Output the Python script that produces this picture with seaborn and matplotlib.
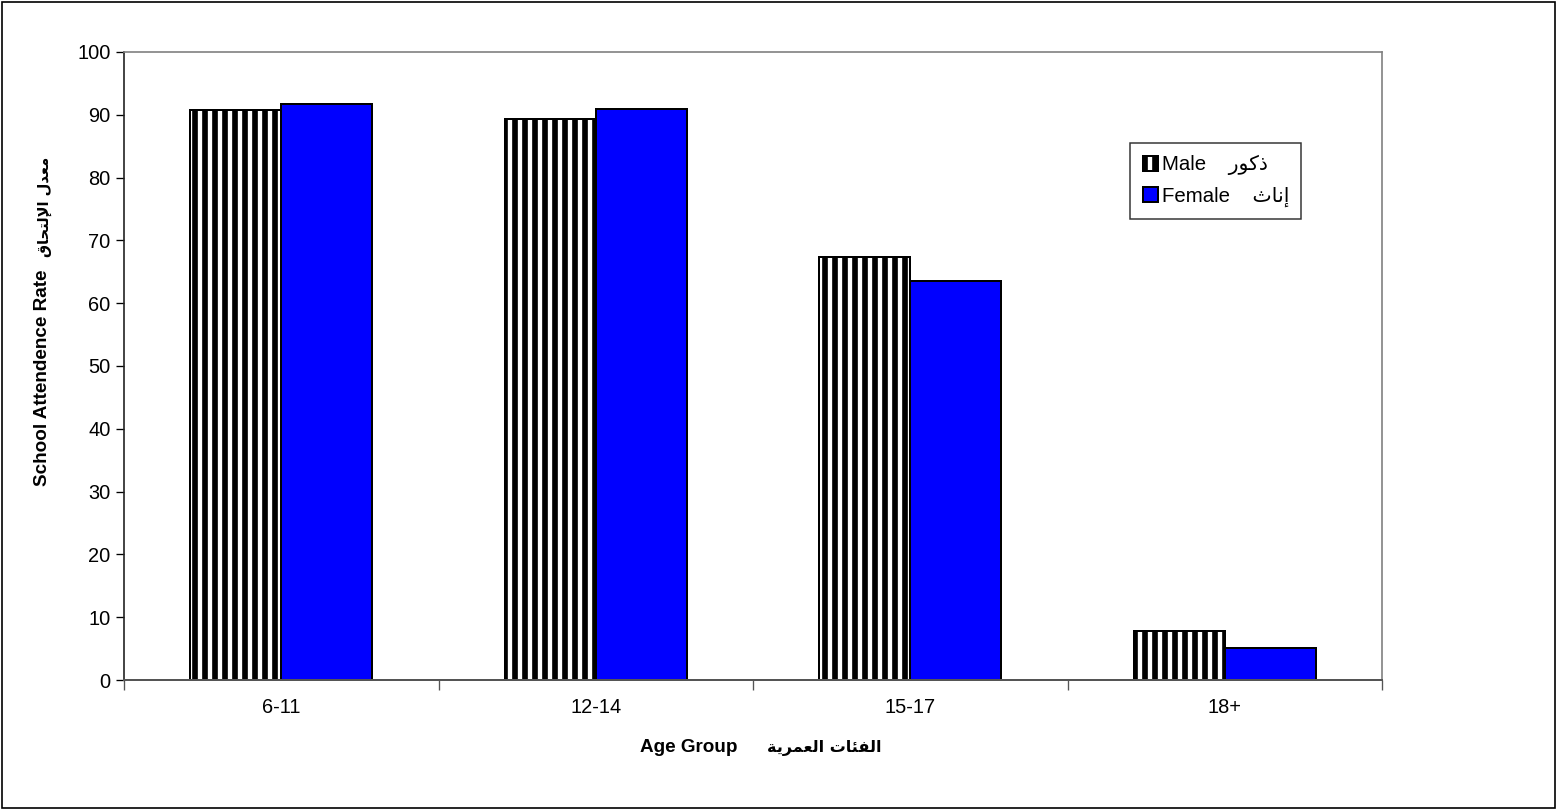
import pandas as pd
import matplotlib
matplotlib.use("Agg")
import matplotlib.pyplot as plt
import seaborn as sns
from matplotlib.patches import Patch, Rectangle

# Chart data
age_groups = ["6-11", "12-14", "15-17", "18+"]
male_rate = [90.8, 89.3, 67.4, 7.8]
female_rate = [91.7, 90.9, 63.5, 5.1]

# Arabic words written in presentation forms, visual (left-to-right) order
ar_male = "\uFEAD\uFEEE\uFEDB\uFEAB"                      # ذكور
ar_female = "\uFE99\uFE8E\uFEE7\uFE87"                    # إناث
ar_age = ("\uFE94\uFEF3\uFEAE\uFEE4\uFECC\uFEDF\uFE8D" + " "
          + "\uFE95\uFE8E\uFE8C\uFED4\uFEDF\uFE8D")       # الفئات العمرية
ar_rate = ("\uFED5\uFE8E\uFEA4\uFE98\uFEDF\uFEF9\uFE8D" + " "
           + "\uFEDD\uFEAA\uFECC\uFEE3")                   # معدل الإلتحاق

male_label = "Male    " + ar_male
female_label = "Female    " + ar_female
x_title_en = "Age Group"
y_title_en = "School Attendence Rate"

DPI = 120  # hatch spacing scales with dpi: '||' gives ~10 px stripes here


def main():
    sns.set_style("white")
    plt.rcParams["font.family"] = ["Liberation Sans", "DejaVu Sans"]
    plt.rcParams["hatch.linewidth"] = 3.4
    for key in ["text.color", "axes.labelcolor", "xtick.labelcolor",
                "ytick.labelcolor"]:
        plt.rcParams[key] = "black"

    df = pd.DataFrame({
        "age": age_groups * 2,
        "rate": male_rate + female_rate,
        "sex": ["Male"] * len(age_groups) + ["Female"] * len(age_groups),
    })

    fig = plt.figure(figsize=(1558 / DPI, 810 / DPI), dpi=DPI)
    ax = fig.add_axes([124 / 1558, 1 - 680 / 810, 1258 / 1558, 628 / 810])

    sns.barplot(data=df, x="age", y="rate", hue="sex", order=age_groups,
                hue_order=["Male", "Female"],
                palette={"Male": "white", "Female": "#0000FF"},
                saturation=1, width=0.58, edgecolor="black", linewidth=1.2,
                errorbar=None, legend=False, ax=ax)

    # vertical stripe fill for male bars
    for bar in ax.containers[0]:
        bar.set_hatch("||")
        bar.set_edgecolor("black")

    ax.set_xlim(-0.5, 3.5)
    ax.set_ylim(0, 100)
    ax.set_yticks(range(0, 101, 10))
    ax.tick_params(axis="y", length=5, width=0.8, color="black", labelsize=12,
                   left=True, pad=3, labelcolor="black")
    ax.tick_params(axis="x", which="major", length=0, labelsize=12, pad=11,
                   labelcolor="black")
    ax.set_xticks([-0.5, 0.5, 1.5, 2.5, 3.5], minor=True)
    ax.tick_params(axis="x", which="minor", length=6, width=0.8,
                   color="#555555", bottom=True)

    for side in ["top", "right"]:
        ax.spines[side].set_color("#808080")
        ax.spines[side].set_linewidth(1.0)
    ax.spines["left"].set_color("#222222")
    ax.spines["bottom"].set_color("#555555")
    ax.spines["left"].set_linewidth(1.0)
    ax.spines["bottom"].set_linewidth(1.2)

    # axis titles: English and Arabic parts set separately
    ax.set_xlabel("")
    ax.set_ylabel("")
    ax.text(0.4873, -0.108, x_title_en, transform=ax.transAxes, ha="right",
            va="center", fontsize=11.3, fontweight="bold")
    ax.text(0.5111, -0.108, ar_age, transform=ax.transAxes, ha="left",
            va="center", fontsize=9.6, fontweight="bold",
            family=["DejaVu Sans"])
    ax.text(-0.0644, 0.309, y_title_en, transform=ax.transAxes, ha="left",
            va="center", rotation=90, rotation_mode="anchor",
            fontsize=11.3, fontweight="bold")
    ax.text(-0.0628, 0.6736, ar_rate, transform=ax.transAxes, ha="left",
            va="center", rotation=90, rotation_mode="anchor",
            fontsize=8.8, fontweight="bold", family=["DejaVu Sans"])

    handles = [
        Patch(facecolor="white", edgecolor="black", hatch="||", linewidth=1.2),
        Patch(facecolor="#0000FF", edgecolor="black", linewidth=1.2),
    ]
    leg = ax.legend(handles, [male_label, female_label], loc="upper left",
                    bbox_to_anchor=(0.80, 0.855), fontsize=12.2,
                    frameon=True, fancybox=False, edgecolor="black",
                    handlelength=0.75, handleheight=0.75, handletextpad=0.2,
                    borderpad=0.6, labelspacing=0.55, borderaxespad=0)
    leg.get_frame().set_linewidth(0.9)

    # outer border around the whole chart
    fig.patches.append(Rectangle((0.001, 0.002), 0.997, 0.996,
                                 transform=fig.transFigure, fill=False,
                                 edgecolor="black", linewidth=1.0))

    fig.savefig("out.png", dpi=DPI)
    plt.close(fig)


if __name__ == "__main__":
    main()
